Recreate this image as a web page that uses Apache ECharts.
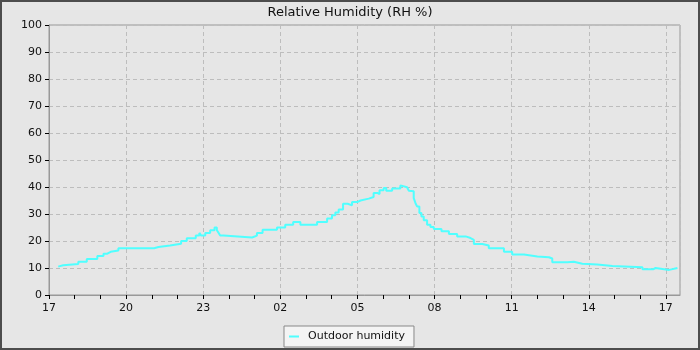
<!DOCTYPE html>
<html>
<head>
<meta charset="utf-8">
<script src="https://cdn.jsdelivr.net/npm/echarts@6/dist/echarts.min.js"></script>
<style>
html, body { margin: 0; padding: 0; background: #e6e6e6; }
#chartRH { width: 700px; height: 350px; }
</style>
</head>
<body>
<div id="chartRH"></div>
<script>
// hours since 17:00 where the reading changes
var hours = [0.36, 0.43, 0.55, 1.14, 1.47, 1.88, 2.12, 2.27, 2.4, 2.7,
	4.09, 4.26, 4.71, 5.14, 5.36, 5.71, 5.85, 5.92, 6.08, 6.27,
	6.44, 6.53, 6.6, 6.66, 6.79, 7.9, 8.09, 8.31, 8.87, 9.19,
	9.5, 9.58, 9.65, 9.78, 10.43, 10.82, 11.01, 11.14, 11.27, 11.44,
	11.62, 11.79, 11.99, 12.12, 12.44, 12.63, 12.77, 12.86, 13.02, 13.12,
	13.35, 13.67, 13.74, 13.93, 14.0, 14.06, 14.19, 14.26, 14.32, 14.41,
	14.49, 14.58, 14.71, 14.84, 14.97, 15.27, 15.56, 15.88, 16.21, 16.4,
	16.53, 16.86, 17.11, 17.7, 18.02, 18.48, 19.0, 19.45, 19.58, 20.17,
	20.42, 20.75, 21.33, 21.92, 23.09, 23.5, 23.6, 24.13, 24.45];
var humidity = [10.5, 11, 11.5, 12.3, 13.3, 14.4, 15.3, 16, 16.5, 17.3,
	17.8, 18.3, 19, 20, 21, 22, 23, 22, 23, 24,
	25, 24, 23, 22, 21.3, 22, 23, 24.2, 25, 26,
	27, 26.5, 27, 26, 27, 28.3, 29.5, 30.6, 31.7, 33.8,
	33.2, 34.4, 35, 35.7, 36.3, 37.8, 37.4, 38.8, 39.6, 38.6,
	39.4, 40.6, 39.9, 40.6, 38.6, 38.4, 35.9, 34, 32.8, 30.4,
	29.1, 27.7, 26, 25.2, 24.4, 23.6, 22.6, 21.7, 21.1, 20.4,
	18.9, 18.3, 17.3, 16, 15, 14.3, 14, 13.5, 12.1, 12.3,
	11.6, 11.3, 10.7, 10.3, 9.5, 10, 9.3, 10, 10];
var xLabels = ['17', '20', '23', '02', '05', '08', '11', '14', '17'];
var hourTicks = [0, 1, 2, 3, 4, 5, 6, 7, 8, 9, 10, 11, 12, 13, 14, 15, 16, 17, 18, 19, 20, 21, 22, 23, 24];

var chartRH = function(){
	var myChart = echarts.init(document.getElementById('chartRH'));
	var data = [];
	for (var i = 0; i < hours.length; i++) {
		data.push([hours[i], humidity[i]]);
	}
	var font = { fontFamily: 'DejaVu Sans', fontSize: 11, color: '#111' };
	var option = {
		backgroundColor: '#e6e6e6',
		animation: false,
		title: {
			text: 'Relative Humidity (RH %)',
			left: 'center',
			top: 1,
			textStyle: { fontFamily: 'DejaVu Sans', fontSize: 13, fontWeight: 'normal', color: '#111' }
		},
		legend: {
			left: 284,
			top: 326,
			itemWidth: 10,
			itemHeight: 2,
			itemGap: 4,
			padding: [5, 9, 5, 5],
			backgroundColor: '#f4f4f4',
			borderColor: '#888',
			borderWidth: 1,
			borderRadius: 0,
			icon: 'rect',
			textStyle: Object.assign({ padding: [0, 0, 0, 4] }, font),
			data: ['Outdoor humidity']
		},
		graphic: [{
			type: 'rect',
			shape: { x: 1, y: 1, width: 698, height: 348 },
			style: { fill: 'none', stroke: '#4d4d4d', lineWidth: 2 },
			silent: true
		}],
		grid: {
			left: 49, right: 20, top: 25, bottom: 55,
			show: true,
			borderColor: '#999',
			borderWidth: 1,
			backgroundColor: 'transparent'
		},
		xAxis: [{
			type: 'value',
			min: 0,
			max: 24.55,
			interval: 3,
			axisLine: { lineStyle: { color: '#999' } },
			axisTick: { show: false },
			axisLabel: Object.assign({
				margin: 8,
				formatter: function (v) {
					var k = Math.round(v / 3);
					return Math.abs(v - k * 3) < 0.01 ? xLabels[k] : '';
				}
			}, font),
			splitLine: { show: true, lineStyle: { color: '#bdbdbd', type: [4, 3] } }
		}, {
			type: 'value',
			position: 'bottom',
			min: 0,
			max: 24.55,
			interval: 1,
			axisLine: { show: false },
			axisTick: { show: true, length: 4, customValues: hourTicks, lineStyle: { color: '#000' } },
			axisLabel: { show: false },
			splitLine: { show: false }
		}],
		yAxis: {
			type: 'value',
			min: 0,
			max: 100,
			interval: 10,
			axisLine: { show: true, lineStyle: { color: '#999' } },
			axisTick: { show: true, length: 4, lineStyle: { color: '#000' } },
			axisLabel: Object.assign({ margin: 7 }, font),
			splitLine: { show: true, lineStyle: { color: '#bdbdbd', type: [4, 3] } }
		},
		series: [{
			name: 'Outdoor humidity',
			type: 'line',
			step: 'end',
			showSymbol: false,
			color: '#50ffff',
			lineStyle: { color: '#50ffff', width: 2 },
			data: data
		}]
	};
	myChart.setOption(option);
};
chartRH();
</script>
</body>
</html>
